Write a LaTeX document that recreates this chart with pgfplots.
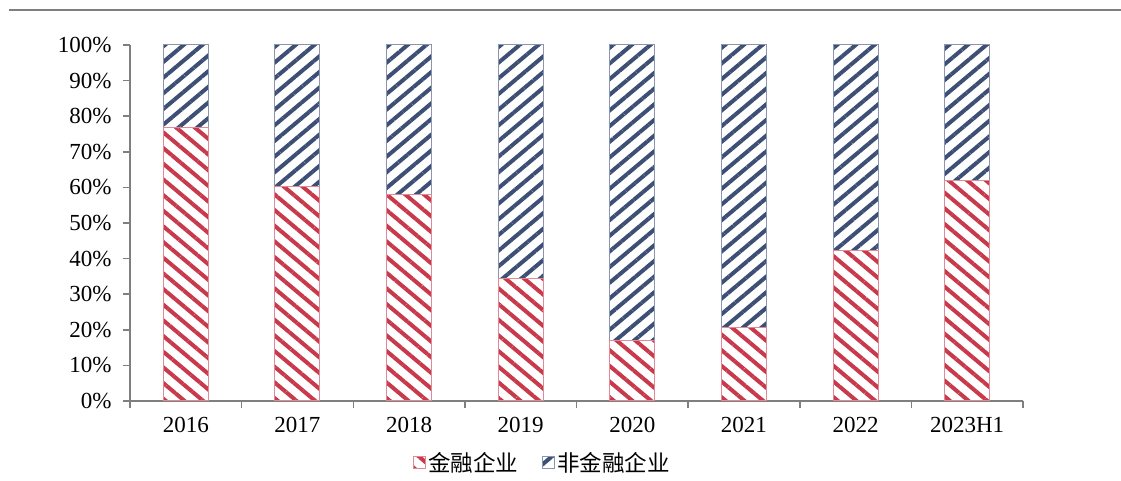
\documentclass[border=0pt]{standalone}
\usepackage{fontspec}
\setmainfont{Liberation Serif}
\newfontfamily\cjk{Noto Sans CJK SC}
\usepackage{pgfplots}
\usepackage{pgfplotstable}
\pgfplotsset{compat=1.18}
\usetikzlibrary{patterns.meta}

\definecolor{finred}{HTML}{C8394B}
\definecolor{finedge}{HTML}{E08A95}
\definecolor{nonblue}{HTML}{3E4F76}
\definecolor{nonedge}{HTML}{8A96AE}
\definecolor{axisgray}{HTML}{7F7F7F}

% share of financial vs. non-financial enterprises (%)
\pgfplotstableread{
x fin nonfin
0 76.8 23.2
1 60.2 39.8
2 57.9 42.1
3 34.4 65.6
4 17.0 83.0
5 20.6 79.4
6 42.4 57.6
7 61.9 38.1
}\shares

\begin{document}
\begin{tikzpicture}
\path[use as bounding box] (0,0) rectangle (1121pt,481pt);
\draw[axisgray, line width=1.5pt] (9pt,471pt) -- (1121pt,471pt);
\begin{axis}[
  at={(130pt,80pt)}, anchor=south west,
  scale only axis, width=893pt, height=356pt,
  ybar stacked, bar width=45pt,
  xmin=-0.5, xmax=7.5, ymin=0, ymax=100,
  axis x line*=bottom, axis y line*=left,
  axis line style={axisgray, line width=1.5pt},
  tick align=outside,
  major tick length=7pt, minor tick length=7pt,
  tick style={axisgray, line width=1.5pt},
  xtick={0,...,7},
  xticklabels={2016,2017,2018,2019,2020,2021,2022,2023H1},
  major x tick style={draw=none},
  minor xtick={-0.5,0.5,...,7.5},
  ytick={0,10,...,100},
  yticklabel={\pgfmathprintnumber{\tick}\%},
  /pgf/number format/assume math mode=true,
  tick label style={font=\fontsize{23}{27}\selectfont, text=black},
  yticklabel style={xshift=-8pt},
  xticklabel style={yshift=-6pt},
  legend style={at={(0.462,-0.174)}, anchor=center, draw=none,
    font=\cjk\fontsize{22.5}{26}\selectfont, text=black,
    /tikz/every even column/.append style={column sep=22pt}},
  legend columns=2,
  legend image code/.code={\draw[#1] (0pt,-6pt) rectangle (12pt,6pt);},
]
\addplot[draw=finedge, line width=1pt,
  pattern={Lines[angle=-40,distance=12pt,line width=4pt]},
  pattern color=finred] table[x=x,y=fin]{\shares};
\addlegendentry{金融企业}
\addplot[draw=nonedge, line width=1pt,
  pattern={Lines[angle=40,distance=12pt,line width=4pt]},
  pattern color=nonblue] table[x=x,y=nonfin]{\shares};
\addlegendentry{非金融企业}
\end{axis}
\end{tikzpicture}
\end{document}
